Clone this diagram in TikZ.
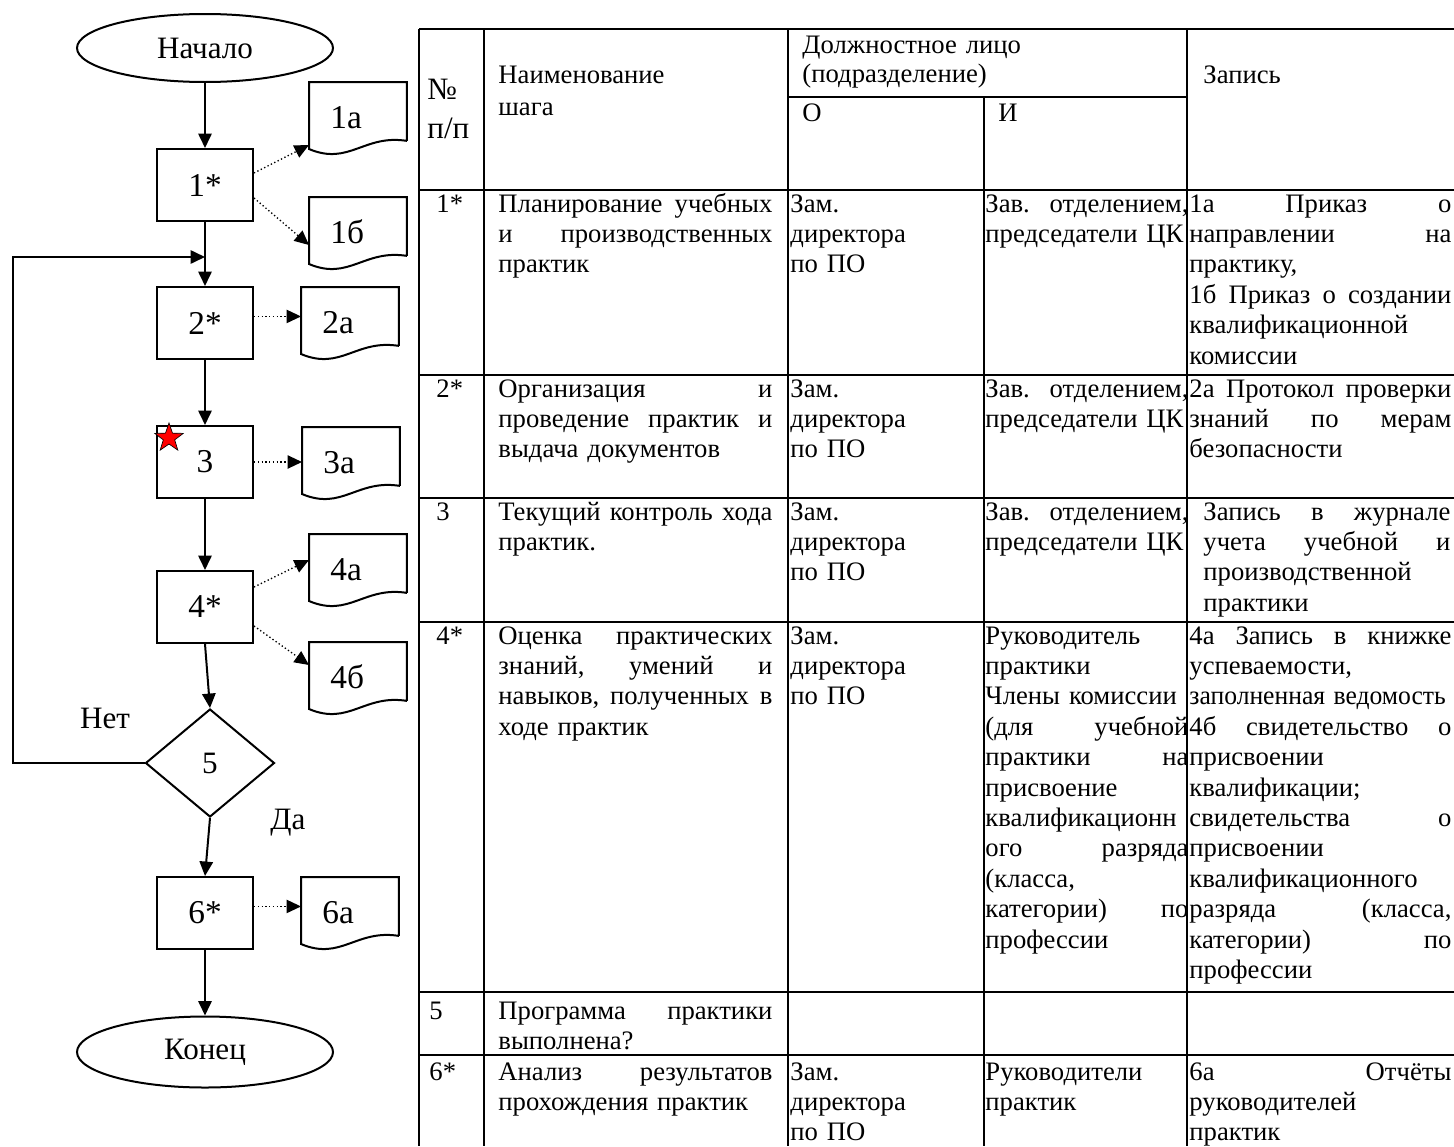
\documentclass[tikz,border=0pt]{standalone}
\usepackage{fontspec}
\setmainfont{Liberation Serif}
\usetikzlibrary{arrows.meta,shapes.geometric,calc}
\newcommand\jf{\nobreak\hfill\nobreak}
\newcommand\docout[1]{\draw[fline,line join=miter] (#1.south east) -- (#1.north east) -- (#1.north west) -- ($(#1.north west)+(0,67)$) .. controls ($(#1.north west)+(40,84)$) and ($(#1.north west)+(55,52)$) .. (#1.south east);}
\begin{document}
\begin{tikzpicture}[x=0.45pt,y=-0.45pt,
  fline/.style={line width=0.9pt},
  farr/.style={fline,-{Triangle[length=6.5pt,width=6pt]}},
  fdot/.style={line width=0.6pt,dash pattern=on 0.6pt off 1.1pt,-{Triangle[length=6.5pt,width=6pt]}},
  termnode/.style={ellipse,draw,fline,minimum width=256*0.45pt,minimum height=68*0.45pt,inner sep=0pt,font=\fontsize{14}{16}\selectfont},
  stepbox/.style={rectangle,draw,fline,minimum width=96*0.45pt,minimum height=72*0.45pt,inner sep=0pt,font=\fontsize{15}{18}\selectfont},
  docnode/.style={rectangle,anchor=north west,minimum width=97*0.45pt,minimum height=58*0.45pt,inner ysep=0pt,inner xsep=21*0.45pt,text width=55*0.45pt,align=left,text height=34*0.45pt,text depth=0pt,font=\fontsize{15}{18}\selectfont},
  decnode/.style={diamond,draw,fline,minimum width=129*0.45pt,minimum height=108*0.45pt,inner sep=0pt,font=\fontsize{14}{16}\selectfont},
  lbl/.style={inner sep=0pt,font=\fontsize{14}{16}\selectfont},
  tabline/.style={line width=1pt},
  cellbase/.style={anchor=base west,inner sep=0pt,align=left,font=\fontsize{12}{13.68}\selectfont},
  cnum/.style={cellbase,text width=45*0.45pt},
  cname/.style={cellbase,text width=274*0.45pt},
  cresp/.style={cellbase,text width=190*0.45pt},
  cexec/.style={cellbase,text width=203*0.45pt},
  crec/.style={cellbase,text width=262*0.45pt}
]
\path[fill=white] (0,0) rectangle (1454,1146);
\useasboundingbox (0,0) rectangle (1454,1146);

% ---------------- flowchart ----------------
\node[termnode] (startn) at (205,48) {Начало};
\node[stepbox] (b1) at (205,185) {1*};
\node[stepbox] (b2) at (205,323) {2*};
\node[stepbox] (b3) at (205,462) {3};
\node[stepbox] (b4) at (205,607) {4*};
\node[decnode] (dia) at (210,763) {5};
\node[stepbox] (b6) at (205,913) {6*};
\node[termnode,minimum height=71*0.45pt] (finish) at (205,1052) {Конец};

\node[docnode] (d1a) at (309,82) {1а};
\node[docnode] (d1b) at (309,197) {1б};
\node[docnode] (d2a) at (301,287) {2а};
\node[docnode] (d3a) at (302,427) {3а};
\node[docnode] (d4a) at (309,534) {4а};
\node[docnode] (d4b) at (309,642) {4б};
\node[docnode] (d6a) at (301,877) {6а};
\foreach \d in {d1a,d1b,d2a,d3a,d4a,d4b,d6a} {\docout{\d}}

\node[star,star points=5,star point ratio=2.5,draw=black,line width=0.3pt,fill=red,minimum size=30*0.45pt,inner sep=0pt] (mark3) at (169,438) {};

\node[lbl] (no) at (105,718) {Нет};
\node[lbl] (yes) at (288,823) {Да};

\coordinate (fbc) at (13,257);
\coordinate (fbj) at (205,257);

\draw[farr] (startn) -- (b1);
\draw[farr] (b1) -- (b2);
\draw[farr] (b2) -- (b3);
\draw[farr] (b3) -- (b4);
\draw[farr] (b4.south) -- (dia.north);
\draw[farr] (dia.south) -- (b6.north);
\draw[farr] (b6) -- (finish);
\draw[farr] (dia.west) -| (fbc) -- (fbj);

\draw[fdot] ($(b1.east)+(0,-12)$) -- ($(d1a.north west)+(0,63)$);
\draw[fdot] ($(b1.east)+(0,13)$) -- ($(d1b.north west)+(0,48)$);
\draw[fdot] (b2.east |- d2a.west) -- (d2a.west);
\draw[fdot] (b3.east) -- (b3.east -| d3a.west);
\draw[fdot] ($(b4.east)+(0,-20)$) -- ($(d4a.north west)+(0,26)$);
\draw[fdot] ($(b4.east)+(0,19)$) -- ($(d4b.north west)+(0,23)$);
\draw[fdot] (b6.east |- d6a.west) -- (d6a.west);

% ---------------- table ----------------
\draw[tabline] (419,29) -- (1454,29);
\draw[tabline] (788,97) -- (1187,97);
\foreach \yy in {190,375,498,622,992,1055} {\draw[tabline] (419,\yy) -- (1454,\yy);}
\foreach \xx in {419,484,788,1187} {\draw[tabline] (\xx,29) -- (\xx,1146);}
\draw[tabline] (984,97) -- (984,1146);

% header
\node[cellbase,text width=50*0.45pt,font=\fontsize{14}{17.55}\selectfont] (hno) at (427,99) {№\\п/п};
\node[cname,font=\fontsize{12}{14.4}\selectfont] (hname) at (498,83) {Наименование\\шага};
\node[cellbase,text width=380*0.45pt,font=\fontsize{12}{13.05}\selectfont] (hresp) at (802,53) {Должностное~лицо\\(подразделение)};
\node[cellbase] (ho) at (802,121) {О};
\node[cellbase] (hi) at (998,121) {И};
\node[cellbase] (hrec) at (1203,83) {Запись};

% row 1
\node[cnum] (n1) at (436,212) {1*};
\node[cname] (s1) at (498,212) {Планирование\jf учебных\\и\jf производственных\\практик};
\node[cresp] (o1) at (790,212) {Зам.\\директора\\по~ПО};
\node[cexec] (i1) at (985,212) {Зав.\jf отделением,\\председатели~ЦК};
\node[crec] (r1) at (1189,212) {1а\jf Приказ\jf о\\направлении\jf на\\практику,\\1б\jf Приказ\jf о\jf создании\\квалификационной\\комиссии};

% row 2
\node[cnum] (n2) at (436,397) {2*};
\node[cname] (s2) at (498,397) {Организация\jf и\\проведение\jf практик\jf и\\выдача~документов};
\node[cresp] (o2) at (790,397) {Зам.\\директора\\по~ПО};
\node[cexec] (i2) at (985,397) {Зав.\jf отделением,\\председатели~ЦК};
\node[crec] (r2) at (1189,397) {2а\jf Протокол\jf проверки\\знаний\jf по\jf мерам\\безопасности};

% row 3
\node[cnum] (n3) at (436,520) {3};
\node[cname] (s3) at (498,520) {Текущий\jf контроль\jf хода\\практик.};
\node[cresp] (o3) at (790,520) {Зам.\\директора\\по~ПО};
\node[cexec] (i3) at (985,520) {Зав.\jf отделением,\\председатели~ЦК};
\node[cellbase,text width=247*0.45pt] (r3) at (1203,520) {Запись\jf в\jf журнале\\учета\jf учебной\jf и\\производственной\\практики};

% row 4
\node[cnum] (n4) at (436,644) {4*};
\node[cname] (s4) at (498,644) {Оценка\jf практических\\знаний,\jf умений\jf и\\навыков,\jf полученных\jf в\\ходе~практик};
\node[cresp] (o4) at (790,644) {Зам.\\директора\\по~ПО};
\node[cexec] (i4) at (985,644) {Руководитель\\практики\\Члены~комиссии\\(для\jf учебной\\практики\jf на\\присвоение\\квалификационн\\ого\jf разряда\\(класса,\\категории)\jf по\\профессии};
\node[crec] (r4) at (1189,644) {4а\jf Запись\jf в\jf книжке\\успеваемости,\\\scalebox{0.96}[1]{заполненная ведомость}\\4б\jf свидетельство\jf о\\присвоении\\квалификации;\\свидетельства\jf о\\присвоении\\квалификационного\\разряда\jf (класса,\\категории)\jf по\\профессии};

% row 5
\node[cnum] (n5) at (429,1019) {5};
\node[cname] (s5) at (498,1019) {Программа\jf практики\\выполнена?};

% row 6
\node[cnum] (n6) at (429,1080) {6*};
\node[cname] (s6) at (498,1080) {Анализ\jf результатов\\прохождения~практик};
\node[cresp] (o6) at (790,1080) {Зам.\\директора\\по~ПО};
\node[cexec] (i6) at (985,1080) {Руководители\\практик};
\node[crec] (r6) at (1189,1080) {6а\jf Отчёты\\руководителей\\практик};
\end{tikzpicture}
\end{document}
